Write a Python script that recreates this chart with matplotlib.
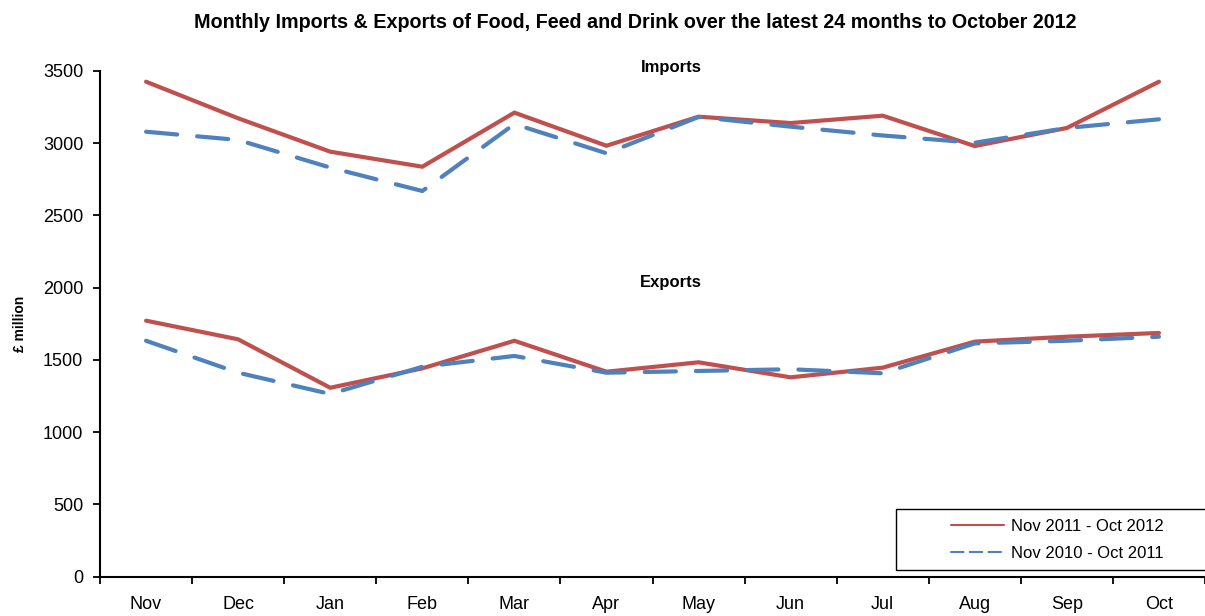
import matplotlib
matplotlib.use("Agg")
import matplotlib.pyplot as plt
from matplotlib.patches import Rectangle
from matplotlib.ticker import FixedLocator, MultipleLocator

plt.rcParams['font.family'] = ['Liberation Sans', 'DejaVu Sans']

months = ["Nov", "Dec", "Jan", "Feb", "Mar", "Apr", "May", "Jun", "Jul", "Aug", "Sep", "Oct"]

# £ million, monthly values
imports_2011_12 = [3424, 3171, 2940, 2836, 3210, 2981, 3182, 3138, 3189, 2979, 3104, 3424]
imports_2010_11 = [3078, 3021, 2830, 2668, 3131, 2929, 3180, 3113, 3052, 3002, 3104, 3164]
exports_2011_12 = [1771, 1642, 1307, 1441, 1632, 1418, 1483, 1379, 1446, 1626, 1660, 1686]
exports_2010_11 = [1632, 1411, 1264, 1452, 1527, 1411, 1423, 1435, 1407, 1614, 1632, 1660]

label_new = "Nov 2011 - Oct 2012"
label_old = "Nov 2010 - Oct 2011"

RED = "#C0504D"
BLUE = "#4F81BD"

fig = plt.figure(figsize=(12.05, 6.16), dpi=100)
ax = fig.add_axes([0.083, 0.0638, 0.917, 0.8214])

x = list(range(len(months)))
dash = (7.5, 4.8)

ax.plot(x, imports_2011_12, color=RED, lw=3, solid_capstyle="round",
        solid_joinstyle="miter", label=label_new, zorder=3)
ax.plot(x, imports_2010_11, color=BLUE, lw=3, dashes=dash,
        dash_capstyle="round", label=label_old, zorder=4)
ax.plot(x, exports_2011_12, color=RED, lw=3, solid_capstyle="round",
        solid_joinstyle="miter", zorder=3)
ax.plot(x, exports_2010_11, color=BLUE, lw=3, dashes=dash,
        dash_capstyle="round", zorder=4)

ax.set_xlim(-0.5, len(months) - 0.5)
ax.set_ylim(0, 3500)
ax.yaxis.set_major_locator(MultipleLocator(500))

ax.set_xticks(x)
ax.set_xticklabels(months)
ax.xaxis.set_minor_locator(FixedLocator([i - 0.5 for i in range(len(months) + 1)]))
ax.tick_params(axis="x", which="major", length=0, pad=14, labelsize=13)
ax.tick_params(axis="x", which="minor", length=5, width=1.3, direction="out")
ax.tick_params(axis="y", which="major", length=5, width=1.3, pad=7, labelsize=13)

for side in ("top", "right"):
    ax.spines[side].set_visible(False)
for side in ("left", "bottom"):
    ax.spines[side].set_linewidth(1.5)

ax.set_ylabel("£ million", fontsize=10, fontweight="bold")
ax.yaxis.set_label_coords(-0.066, 0.5)

fig.text(0.527, 0.964,
         "Monthly Imports & Exports of Food, Feed and Drink over the latest 24 months to October 2012",
         ha="center", va="center", fontsize=14.2, fontweight="bold")

ax.text(0.517, 3520, "Imports", transform=ax.get_yaxis_transform(),
        ha="center", va="center", fontsize=12, fontweight="bold")
ax.text(0.517, 2038, "Exports", transform=ax.get_yaxis_transform(),
        ha="center", va="center", fontsize=12, fontweight="bold")

# legend box with wide left margin
ax.add_patch(Rectangle((0.72, 0.013), 0.285, 0.121, transform=ax.transAxes,
                       facecolor="white", edgecolor="black", lw=1.0,
                       clip_on=False, zorder=5))
leg = ax.legend(loc="center left", bbox_to_anchor=(0.7697, 0.0735), borderaxespad=0,
                borderpad=0, fontsize=12, frameon=False, handlelength=3.2,
                labelspacing=0.72, handletextpad=0.42)
leg.set_zorder(6)
for line in leg.get_lines():
    line.set_linewidth(1.5)
leg.get_lines()[1].set_dashes((6, 3))

fig.savefig("out.png", dpi=100)
